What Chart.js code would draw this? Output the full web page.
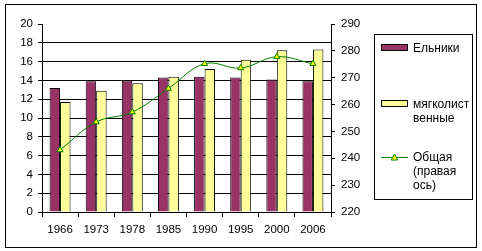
<!DOCTYPE html>
<html>
<head>
<meta charset="utf-8">
<script src="https://cdn.jsdelivr.net/npm/chart.js@4"></script>
<style>
    body { margin: 0; background: #fff; font-family: "Liberation Sans", Arial, sans-serif; }
    #wrap { position: relative; width: 482px; height: 251px; }
    #frame { position: absolute; left: 5px; top: 4px; width: 470px; height: 242px; border: 1px solid #000; }
    canvas { position: absolute; left: 0; top: 0; }
    .legend { position: absolute; left: 374px; top: 34px; width: 97px; height: 164px; border: 1px solid #000; font-size: 12px; color: #000; }
    .item { position: absolute; left: 6px; line-height: 14px; }
    .item svg { position: absolute; left: 0; top: 0; }
    .item span { position: absolute; left: 32px; top: 0; white-space: nowrap; }
</style>
</head>
<body>
<div id="wrap">
    <div id="frame"></div>
    <canvas id="chart" width="482" height="251"></canvas>
    <div class="legend">
        <div class="item" style="top:6px">
            <svg width="28" height="14"><rect x="0.5" y="3.5" width="26" height="6" fill="#993366" stroke="#000"/></svg>
            <span>Ельники</span>
        </div>
        <div class="item" style="top:62px">
            <svg width="28" height="14"><rect x="0.5" y="3.5" width="26" height="6" fill="#FFFF99" stroke="#000"/></svg>
            <span>мягколист<br>венные</span>
        </div>
        <div class="item" style="top:115px">
            <svg width="28" height="14"><line x1="0" y1="7.5" x2="27" y2="7.5" stroke="#008000"/><polygon points="13.5,4 16.8,10 10.2,10" fill="#FFFF00" stroke="#008000"/></svg>
            <span>Общая<br>(правая<br>ось)</span>
        </div>
    </div>
</div>
<script>
    const years = ['1966', '1973', '1978', '1985', '1990', '1995', '2000', '2006'];
    const spruce = [13.2, 13.9, 14.0, 14.3, 14.4, 14.3, 14.1, 13.9];
    const softLeaved = [11.7, 12.9, 13.7, 14.4, 15.2, 16.2, 17.2, 17.3];
    const total = [243.1, 253.5, 257.2, 266.0, 275.2, 273.6, 277.8, 275.2];

    const tickFont = { family: '"Liberation Sans", Arial, sans-serif', size: 11.5 };

    new Chart(document.getElementById('chart'), {
        type: 'bar',
        data: {
            labels: years,
            datasets: [
                {
                    type: 'line',
                    label: 'Общая (правая ось)',
                    data: total,
                    yAxisID: 'y1',
                    borderColor: '#008000',
                    borderWidth: 1,
                    tension: 0.4,
                    pointStyle: 'triangle',
                    pointRadius: 3.5,
                    pointBackgroundColor: '#FFFF00',
                    pointBorderColor: '#008000',
                    pointBorderWidth: 1,
                    order: 0
                },
                {
                    label: 'Ельники',
                    data: spruce,
                    yAxisID: 'y',
                    backgroundColor: '#993366',
                    borderColor: '#000',
                    borderWidth: 1,
                    categoryPercentage: 0.58,
                    barPercentage: 1.0,
                    order: 1
                },
                {
                    label: 'мягколиственные',
                    data: softLeaved,
                    yAxisID: 'y',
                    backgroundColor: '#FFFF99',
                    borderColor: '#000',
                    borderWidth: 1,
                    categoryPercentage: 0.58,
                    barPercentage: 1.0,
                    order: 1
                }
            ]
        },
        options: {
            responsive: false,
            animation: false,
            layout: { padding: { left: 10, right: 111, top: 24, bottom: 14 } },
            plugins: { legend: { display: false }, tooltip: { enabled: false } },
            scales: {
                x: {
                    offset: true,
                    grid: { offset: true, drawOnChartArea: false, tickLength: 5, color: '#000' },
                    border: { color: '#000' },
                    ticks: { color: '#000', font: tickFont, padding: 6, maxRotation: 0 },
                    afterFit: s => { s.height = 25; }
                },
                y: {
                    position: 'left',
                    min: 0,
                    max: 20,
                    ticks: { stepSize: 2, color: '#000', font: tickFont, padding: 5 },
                    grid: {
                        color: c => c.tick && c.tick.value === 20 ? 'rgba(0,0,0,0)' : '#000',
                        tickColor: '#000',
                        tickLength: 4
                    },
                    border: { color: '#000' },
                    afterFit: s => { s.width = 32; }
                },
                y1: {
                    position: 'right',
                    min: 220,
                    max: 290,
                    ticks: { stepSize: 10, color: '#000', font: tickFont, padding: 6 },
                    grid: { drawOnChartArea: false, color: '#000', tickLength: 4 },
                    border: { color: '#000' },
                    afterFit: s => { s.width = 40; }
                }
            }
        }
    });
</script>
</body>
</html>
